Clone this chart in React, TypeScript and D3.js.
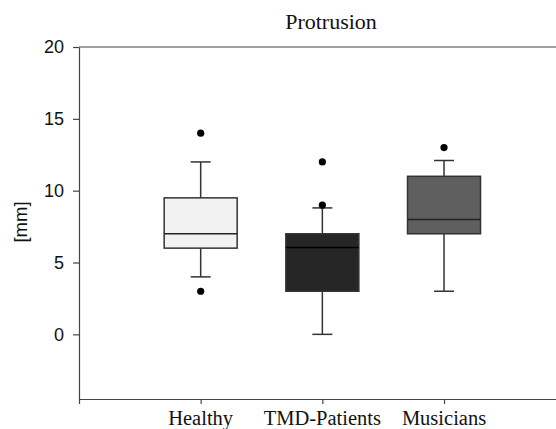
import React, { useRef, useEffect } from 'react';
import * as d3 from 'd3';

const categories = ['Healthy', 'TMD-Patients', 'Musicians'];
const whiskerLow = [4, 0, 3];
const q1 = [6, 3, 7];
const median = [7, 6.05, 8];
const q3 = [9.5, 7, 11];
const whiskerHigh = [12, 8.8, 12.1];
const outliers = [[14, 3], [12, 9], [13]];
const fills = ['#f2f2f2', '#262626', '#5f5f5f'];
const yTicks = [0, 5, 10, 15, 20];

const W = 556, H = 429;
const M = { top: 47, left: 79, bottom: 399 };

export default function App() {
  const svgRef = useRef<SVGSVGElement>(null);

  useEffect(() => {
    const svg = d3.select(svgRef.current);
    svg.selectAll('*').remove();

    const x = d3.scaleLinear().domain([0, 4]).range([M.left, 565.7]);
    const y = d3.scaleLinear().domain([-4.5, 20]).range([M.bottom, M.top]);
    const boxW = 73;
    const capW = 20;
    const stroke = '#333';

    // frame: top line, left axis, bottom axis
    svg.append('line')
      .attr('x1', M.left).attr('x2', W).attr('y1', M.top).attr('y2', M.top)
      .attr('stroke', '#444').attr('stroke-width', 1.2);

    svg.append('g').attr('transform', `translate(${M.left},0)`)
      .call(d3.axisLeft(y).tickValues(yTicks).tickSize(6).tickSizeOuter(0).tickPadding(9).tickFormat(d3.format('d')))
      .call(a => a.select('.domain').attr('stroke', '#444').attr('stroke-width', 1.2))
      .call(a => a.selectAll('.tick line').attr('stroke', '#444').attr('stroke-width', 1.2))
      .call(a => a.selectAll('text').attr('fill', '#111').attr('font-size', 18)
        .attr('font-family', '"Liberation Sans", Arial, sans-serif'));

    svg.append('g').attr('transform', `translate(0,${M.bottom})`)
      .call(d3.axisBottom(x).tickValues([0, 1, 2, 3, 4]).tickSize(5).tickSizeOuter(0).tickFormat(() => ''))
      .call(a => a.select('.domain').attr('stroke', '#444').attr('stroke-width', 1.2))
      .call(a => a.selectAll('.tick line').attr('stroke', '#444').attr('stroke-width', 1.2));

    // category labels
    svg.append('g').selectAll('text').data(categories).join('text')
      .attr('x', (_, i) => x(i + 1)).attr('y', 425)
      .attr('text-anchor', 'middle').attr('font-size', 20.5)
      .attr('font-family', '"Liberation Serif", "Times New Roman", serif').attr('fill', '#111')
      .text(d => d);

    // boxes
    const g = svg.append('g');
    categories.forEach((_, i) => {
      const cx = x(i + 1);
      // whiskers
      g.append('line').attr('x1', cx).attr('x2', cx).attr('y1', y(q3[i])).attr('y2', y(whiskerHigh[i]))
        .attr('stroke', stroke).attr('stroke-width', 1.5);
      g.append('line').attr('x1', cx).attr('x2', cx).attr('y1', y(q1[i])).attr('y2', y(whiskerLow[i]))
        .attr('stroke', stroke).attr('stroke-width', 1.5);
      [whiskerHigh[i], whiskerLow[i]].forEach(v => {
        g.append('line').attr('x1', cx - capW / 2).attr('x2', cx + capW / 2).attr('y1', y(v)).attr('y2', y(v))
          .attr('stroke', stroke).attr('stroke-width', 1.5);
      });
      g.append('rect')
        .attr('x', cx - boxW / 2).attr('width', boxW)
        .attr('y', y(q3[i])).attr('height', y(q1[i]) - y(q3[i]))
        .attr('fill', fills[i]).attr('stroke', stroke).attr('stroke-width', 1.5);
      g.append('line').attr('x1', cx - boxW / 2).attr('x2', cx + boxW / 2)
        .attr('y1', y(median[i])).attr('y2', y(median[i]))
        .attr('stroke', i === 1 ? '#000' : '#222').attr('stroke-width', 1.5);
      g.selectAll(null).data(outliers[i]).join('circle')
        .attr('cx', cx).attr('cy', d => y(d)).attr('r', 3.6).attr('fill', '#000');
    });

    // title
    svg.append('text').attr('x', 331).attr('y', 28.5).attr('text-anchor', 'middle')
      .attr('font-size', 22).attr('font-family', '"Liberation Serif", "Times New Roman", serif')
      .attr('fill', '#111').text('Protrusion');

    // y label
    svg.append('text').attr('transform', `translate(27,222) rotate(-90)`)
      .attr('text-anchor', 'middle').attr('font-size', 18.5)
      .attr('font-family', '"Liberation Sans", Arial, sans-serif').attr('fill', '#111')
      .text('[mm]');
  }, []);

  return (
    <svg ref={svgRef} width={W} height={H}
      style={{ position: 'absolute', left: 0, top: 0, background: '#fff', display: 'block' }} />
  );
}
